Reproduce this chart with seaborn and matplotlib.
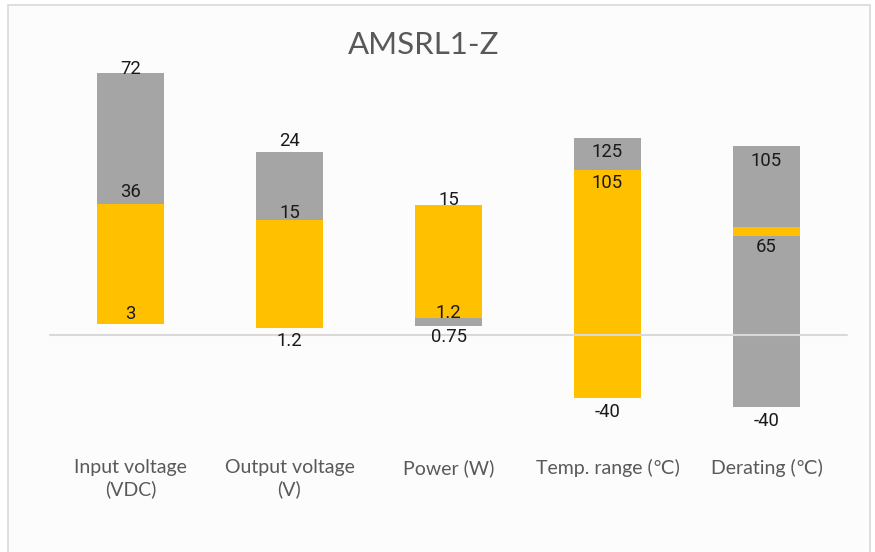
import matplotlib
matplotlib.use("Agg")
import matplotlib.pyplot as plt
import seaborn as sns
import pandas as pd
from matplotlib.patches import Rectangle

# categories and bar levels (drawn on a shared display scale, like the original chart)
categories = ["Input voltage\n(VDC)", "Output voltage\n(V)", "Power (W)",
              "Temp. range (\u2103)", "Derating (\u2103)"]
base = [3, 1.9, 2.5, -17.3, -19.8]        # bottom of the whole bar
orange_lo = [3, 1.9, 4.7, -17.3, 27.2]    # start of orange segment
orange_hi = [36, 31.6, 35.7, 45.3, 29.7]  # end of orange segment
top = [72, 50.3, 35.7, 54.1, 51.9]        # top of the whole bar

# data labels: text, which level it belongs to
label_text = [["72", "36", "3"], ["24", "15", "1.2"], ["15", "1.2", "0.75"],
              ["125", "105", "-40"], ["105", "65", "-40"]]
label_level = [["top", "orange_hi", "base"], ["top", "orange_hi", "base"],
               ["orange_hi", "orange_lo", "base"], ["top", "orange_hi", "base"],
               ["top", "orange_lo", "base"]]
label_dy = [[4, 12, 10], [11, 7, -13], [5, 5, -11], [-14, -13, -14], [-15, -11, -14]]

ORANGE = "#FFC000"
GRAY = "#A5A5A5"

sns.set_theme(style="white")
plt.rcParams["font.family"] = ["Roboto", "DejaVu Sans"]

fig = plt.figure(figsize=(8.75, 5.52), dpi=100)
fig.patch.set_facecolor("white")
fig.patches.append(Rectangle((8 / 875, -0.1), 862 / 875, 1.1 - 5 / 552,
                             transform=fig.transFigure, facecolor="#fcfcfc",
                             edgecolor="#d9d9d9", linewidth=1.2, zorder=-5))

ax = fig.add_axes([0, 0, 1, 1])
ax.set_zorder(2)
ax.set_facecolor("none")

df = pd.DataFrame({"cat": categories, "base": base, "olo": orange_lo,
                   "ohi": orange_hi, "top": top})
df["g1"] = df["olo"] - df["base"]
df["o"] = df["ohi"] - df["olo"]
df["g2"] = df["top"] - df["ohi"]

w = 67 / 159
sns.barplot(data=df, x="cat", y="g1", bottom=df["base"], color=GRAY,
            saturation=1, width=w, ax=ax, linewidth=0)
sns.barplot(data=df, x="cat", y="o", bottom=df["olo"], color=ORANGE,
            saturation=1, width=w, ax=ax, linewidth=0)
sns.barplot(data=df, x="cat", y="g2", bottom=df["ohi"], color=GRAY,
            saturation=1, width=w, ax=ax, linewidth=0)

# pixel geometry of the reference
ppu = 3.64  # pixels per display unit
x0 = 130.5 / 159
ax.set_xlim(-x0, (875 - 130.5) / 159)
ax.set_ylim(-(552 - 335) / ppu, 335 / ppu)
ax.axis("off")

# baseline
ax.plot([(50 - 130.5) / 159, (847 - 130.5) / 159], [0, 0], color="#d9d9d9",
        lw=1.5, zorder=1)

levels = {"base": base, "orange_lo": orange_lo, "orange_hi": orange_hi, "top": top}
for i in range(len(categories)):
    for t, lv, dy in zip(label_text[i], label_level[i], label_dy[i]):
        y = levels[lv][i] + dy / ppu
        ax.text(i, y, t, ha="center", va="center", fontsize=13.3,
                color="#1a1a1a", zorder=5)
    ax.text(i, -(459 - 335) / ppu, categories[i], ha="center", va="top",
            fontsize=14, color="#595959", family=["Lato", "DejaVu Sans"],
            linespacing=1.3)

fig.text(424 / 875, 1 - 45 / 552, "AMSRL1-Z", ha="center", va="center",
         fontsize=22.5, color="#595959", family=["Lato", "DejaVu Sans"])

fig.savefig("out.png", dpi=100)
